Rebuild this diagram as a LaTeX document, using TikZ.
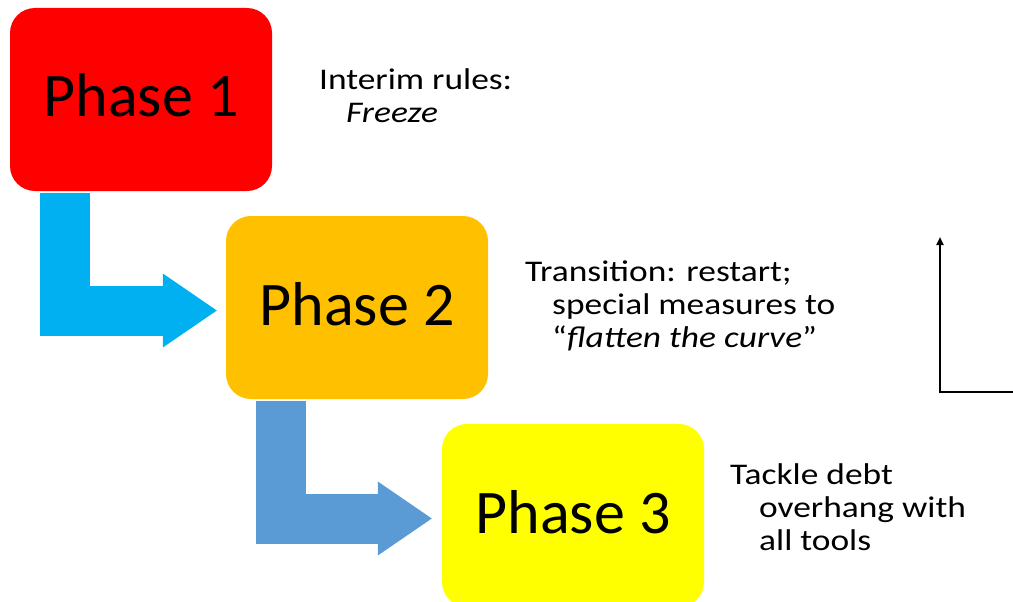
\documentclass[tikz,border=0pt]{standalone}
\usepackage{fontspec}
\setmainfont{Carlito}
\newfontfamily\sidefont[FakeStretch=1.18]{Carlito}
\usetikzlibrary{arrows.meta, positioning, calc}
\definecolor{phRed}{HTML}{FF0000}
\definecolor{phOrange}{HTML}{FFC000}
\definecolor{phYellow}{HTML}{FFFF00}
\definecolor{arCyan}{HTML}{00B0F0}
\definecolor{arBlue}{HTML}{5B9BD5}

\begin{document}
\begin{tikzpicture}[x=1pt, y=-1pt,
  phase/.style={rounded corners=25pt, minimum width=262pt, minimum height=183pt, inner sep=0pt, text height=43pt, text depth=8pt, font=\fontsize{62}{74}\selectfont},
  note/.style={anchor=base west, inner sep=0pt, align=left, font=\sidefont\fontsize{30}{33}\selectfont},
  bentarrow/.style={line width=50pt, -{Triangle[length=54pt, width=74pt, line width=0pt]}},
  axisline/.style={line width=2pt, -{Triangle[length=8pt, width=7pt]}}]
  \useasboundingbox (0,0) rectangle (1013,602);
  % phases
  \node[phase, fill=phRed](p1) at (141,99.5){Phase 1};
  \node[phase, fill=phOrange](p2) at (357,307.5){Phase 2};
  \node[phase, fill=phYellow](p3) at (573,515.5){Phase 3};
  % bent arrows
  \draw[bentarrow, arCyan, shorten >=9pt] ($(p1.south west)+(55,2)$) |- ($(p2.west)+(0,3)$);
  \draw[bentarrow, arBlue, shorten >=10pt] ($(p2.south west)+(55,2)$) |- ($(p3.west)+(0,3)$);
  % notes (anchored on last line)
  \node[note](n1) at (319,123){Interim rules:\\\hspace*{27pt}\textit{Freeze}};
  \node[note](n2) at (525,347){Transition: restart;\\\hspace*{27pt}special measures to\\\hspace*{27pt}“\textit{flatten the curve}”};
  \node[note](n3) at (730,550){Tackle debt\\\hspace*{29pt}overhang with\\\hspace*{29pt}all tools};
  % axis
  \coordinate (axEnd) at (1013,392);
  \coordinate (ax) at (940,392);
  \coordinate (axTop) at (940,237);
  \draw[axisline] (axEnd) -- (ax) -- (axTop);
\end{tikzpicture}
\end{document}
